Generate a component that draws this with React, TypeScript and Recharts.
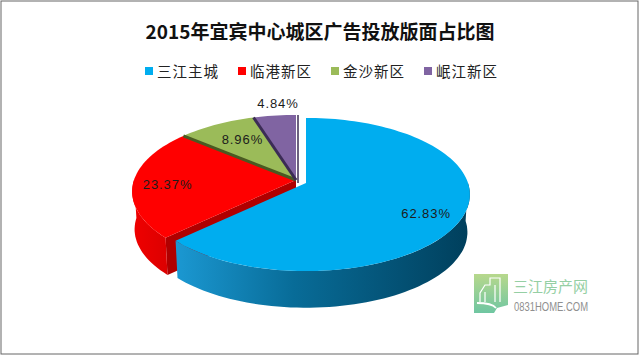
import { PieChart, Pie, Legend } from 'recharts';

const sliceNames = ['三江主城', '临港新区', '金沙新区', '岷江新区'];
const sliceValues = [62.83, 23.37, 8.96, 4.84];
const sliceColors = ['#00adef', '#ff0000', '#9bbb59', '#8064a2'];
const edgeColors = ['none', 'none', '#4a5a22', '#3b2c55'];

const rows = sliceNames.map((name, i) => ({
  name,
  value: sliceValues[i],
  fill: sliceColors[i],
  stroke: edgeColors[i],
}));
const wallRows = [...rows].reverse();

// tilt of the pie, tuned against the picture
const TILT = 0.462;
const PERSPECTIVE = 0.15;
const DEPTH = 38;
const BASE_SCALE = 0.985;
const EXPLODE: Record<string, [number, number]> = { 三江主城: [10, 3] };
const LABEL_SPOT: Record<string, [number, number, number]> = {
  三江主城: [0.8, -5, 6],
  临港新区: [0.79, 0, 3],
  金沙新区: [0.66, 1, -2],
  岷江新区: [1.2, 7, -1],
};

const rad = Math.PI / 180;

function project(cx: number, cy: number, r: number, deg: number, f = 1) {
  const u = Math.cos(deg * rad) * f;
  const v = Math.sin(deg * rad) * f;
  const w = 1 + PERSPECTIVE * v;
  return [cx + (r * u) / w, cy - (r * TILT * v) / w];
}

function arc(cx: number, cy: number, r: number, from: number, to: number, f = 1) {
  const pts: number[][] = [];
  const steps = Math.max(2, Math.ceil(Math.abs(to - from) / 2));
  for (let i = 0; i <= steps; i++) {
    pts.push(project(cx, cy, r, from + ((to - from) * i) / steps, f));
  }
  return pts;
}

const toPath = (pts: number[][]) =>
  'M' + pts.map((p) => `${p[0].toFixed(1)},${p[1].toFixed(1)}`).join('L') + 'Z';

function FaceShape(props: any) {
  const { cx, outerRadius, startAngle, endAngle, fill, stroke, name } = props;
  const [ox, oy] = EXPLODE[name] ?? [0, 0];
  const x0 = cx + ox;
  const y0 = props.cy + oy;
  const lo = Math.min(startAngle, endAngle);
  const hi = Math.max(startAngle, endAngle);
  const pts = [[x0, y0], ...arc(x0, y0, outerRadius, hi, lo)];
  const start = project(x0, y0, outerRadius, hi);
  const end = project(x0, y0, outerRadius, lo);
  return (
    <g>
      <path d={toPath(pts)} fill={fill} stroke="none" />
      {stroke !== 'none' && (
        <line x1={x0} y1={y0} x2={start[0]} y2={start[1]} stroke={stroke} strokeWidth={3} />
      )}
      {name === sliceNames[3] && (
        <line x1={x0 + 2} y1={y0 + 3} x2={end[0] + 2} y2={end[1]} stroke={stroke} strokeWidth={1.5} />
      )}
    </g>
  );
}

function WallShape(props: any) {
  const { cx, cy, outerRadius, startAngle, endAngle, name } = props;
  const [ox, oy] = EXPLODE[name] ?? [0, 0];
  const x0 = cx + ox;
  const y0 = cy + oy;
  const lo = Math.max(Math.min(startAngle, endAngle), -180);
  const hi = Math.min(Math.max(startAngle, endAngle), 0);
  if (lo >= hi) return <g />;
  const base = (deg: number) => {
    const p = project(x0, y0, outerRadius, deg);
    return [x0 + (p[0] - x0) * BASE_SCALE, y0 + (p[1] - y0) * BASE_SCALE + DEPTH];
  };
  const top = arc(x0, y0, outerRadius, lo, hi);
  const bottom = top.map((_, i) => base(lo + ((hi - lo) * (top.length - 1 - i)) / (top.length - 1)));
  const isBlue = name === sliceNames[0];
  const rim = project(x0, y0, outerRadius, hi);
  const rimLow = base(hi);
  return (
    <g>
      {!isBlue && (
        <path
          d={toPath([[x0, y0], rim, rimLow, [x0, y0 + DEPTH]])}
          fill="#b00000"
        />
      )}
      <path d={toPath([...top, ...bottom])} fill={isBlue ? 'url(#wallBlue)' : 'url(#wallRed)'} />
    </g>
  );
}

function renderLabel(props: any) {
  const { cx, cy, outerRadius, midAngle, name, value } = props;
  const [ox, oy] = EXPLODE[name] ?? [0, 0];
  const [f, dx, dy] = LABEL_SPOT[name];
  const [x, y] = project(cx + ox, cy + oy, outerRadius, midAngle, f);
  return (
    <text
      x={x + dx}
      y={y + dy}
      textAnchor="middle"
      dominantBaseline="central"
      fontFamily="Liberation Sans"
      fontSize={13}
      letterSpacing={0.9}
      fill="#1c1c1c"
    >
      {value.toFixed(2)}%
    </text>
  );
}

function LegendRow({ payload }: any) {
  // the wall pie reports its slices too, keep one entry per name
  const items = sliceNames.map((name) => (payload ?? []).find((p: any) => p.value === name)).filter(Boolean);
  return (
    <div style={{ display: 'flex', paddingLeft: 145, fontFamily: 'Noto Sans CJK SC', fontSize: 14.5, lineHeight: '20px', color: '#222' }}>
      {items.map((item: any) => (
        <div key={item.value} style={{ width: 93, flex: 'none', display: 'flex', alignItems: 'center', whiteSpace: 'nowrap' }}>
          <span style={{ width: 8, height: 8, background: item.color, marginRight: 4 }} />
          <span style={{ letterSpacing: 1 }}>{item.value}</span>
        </div>
      ))}
    </div>
  );
}

export default function App() {
  return (
    <div style={{ position: 'absolute', left: 0, top: 0, width: 640, height: 356, background: '#fff' }}>
      <PieChart width={640} height={356} margin={{ top: 0, right: 0, bottom: 0, left: 0 }}>
        <defs>
          <linearGradient id="wallBlue" x1="0" y1="0" x2="1" y2="0">
            <stop offset="0" stopColor="#1b98d2" />
            <stop offset="0.4" stopColor="#086c98" />
            <stop offset="1" stopColor="#003f5c" />
          </linearGradient>
          <linearGradient id="wallRed" x1="0" y1="0" x2="1" y2="0">
            <stop offset="0" stopColor="#f00000" />
            <stop offset="1" stopColor="#dc0000" />
          </linearGradient>
          <linearGradient id="logoFill" x1="0" y1="0" x2="0" y2="1">
            <stop offset="0" stopColor="#b7d88c" />
            <stop offset="1" stopColor="#6fc6a2" />
          </linearGradient>
        </defs>
        <rect x={1} y={1} width={637} height={353} fill="none" stroke="#666" strokeWidth={1} />
        <text
          x={320}
          y={30}
          textAnchor="middle"
          dominantBaseline="central"
          fontFamily="Noto Sans CJK SC"
          fontWeight={700}
          fontSize={19}
          fill="#111"
        >
          2015年宜宾中心城区广告投放版面占比图
        </text>
        <Legend
          content={<LegendRow />}
          layout="horizontal"
          verticalAlign="middle"
          wrapperStyle={{ top: 61, left: 0, width: 640 }}
        />
        <Pie
          data={wallRows}
          dataKey="value"
          nameKey="name"
          cx={296}
          cy={180}
          outerRadius={162}
          startAngle={-270}
          endAngle={90}
          legendType="none"
          shape={WallShape}
          stroke="none"
          isAnimationActive={false}
        />
        <Pie
          data={rows}
          dataKey="value"
          nameKey="name"
          cx={296}
          cy={180}
          outerRadius={162}
          startAngle={90}
          endAngle={-270}
          shape={FaceShape}
          label={renderLabel}
          labelLine={false}
          stroke="none"
          isAnimationActive={false}
        />
        <g>
          <path d="M474 274 L508 274 L508 305 L497 308 L494 313 L474 313 Z" fill="url(#logoFill)" />
          <path
            d="M480 302 L480 293 L485 285 L490 285 L490 278 L500 278 L500 302 M495 285 L495 302 M485 292 L485 302"
            fill="none"
            stroke="#fff"
            strokeWidth={1.2}
          />
          <path d="M477 303 Q492 303 496 308" fill="none" stroke="#fff" strokeWidth={1.8} />
          <text x={513} y={285} dominantBaseline="central" fontFamily="Noto Sans CJK SC" fontSize={15} fill="#95cfa4">
            三江房产网
          </text>
          <text
            x={514}
            y={307}
            dominantBaseline="central"
            fontFamily="Liberation Sans"
            fontSize={12}
            textLength={74}
            lengthAdjust="spacingAndGlyphs"
            fill="#8f8f8f"
          >
            0831HOME.COM
          </text>
        </g>
      </PieChart>
    </div>
  );
}
